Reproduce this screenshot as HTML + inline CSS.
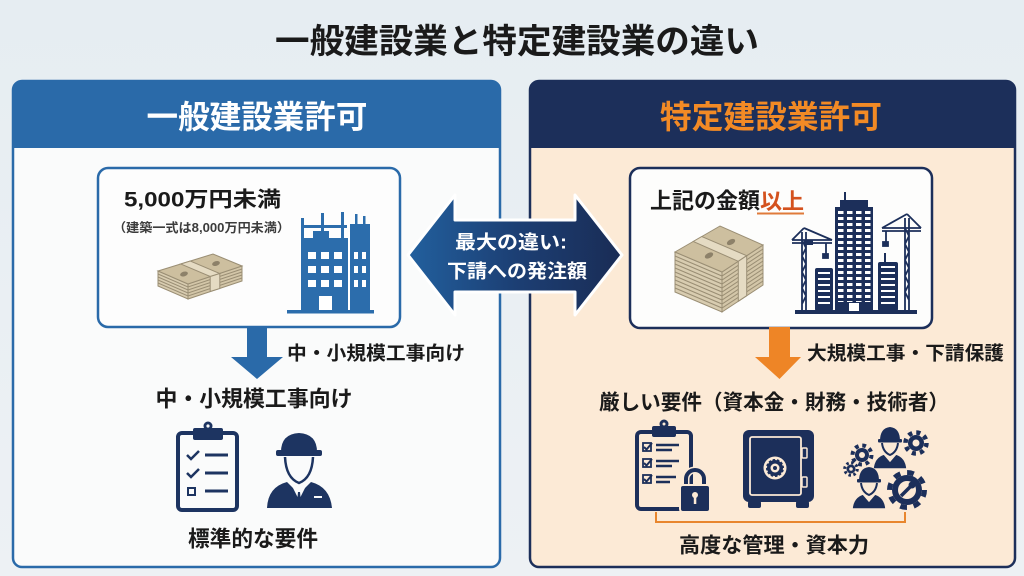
<!DOCTYPE html>
<html><head><meta charset="utf-8"><style>
html,body{margin:0;padding:0;width:1024px;height:576px;overflow:hidden;background:#e8eef3;}
svg{display:block;}
text{font-family:"Liberation Sans","Noto Sans CJK JP",sans-serif;}
</style></head><body>
<svg width="1024" height="576" viewBox="0 0 1024 576" xmlns="http://www.w3.org/2000/svg">
<defs>
<linearGradient id="bg" x1="0" y1="0" x2="0" y2="1"><stop offset="0" stop-color="#e6edf2"/><stop offset="1" stop-color="#edf1f4"/></linearGradient>
<linearGradient id="arr" x1="0" y1="0" x2="1" y2="0"><stop offset="0" stop-color="#22609e"/><stop offset="0.5" stop-color="#1c3f74"/><stop offset="1" stop-color="#1a2c55"/></linearGradient>
<pattern id="tw" x="836" y="210" width="9" height="6" patternUnits="userSpaceOnUse"><rect x="2" y="1" width="5.5" height="3" fill="#fff"/></pattern>
<pattern id="st" x="0" y="270" width="30" height="6" patternUnits="userSpaceOnUse"><rect x="0" y="2" width="30" height="2" fill="#fff"/></pattern>
</defs>
<rect width="1024" height="576" fill="url(#bg)"/>

<!-- Title -->
<text x="517" y="42" font-size="34" font-weight="700" fill="#1a1a1a" text-anchor="middle" dominant-baseline="central" textLength="484" lengthAdjust="spacingAndGlyphs">一般建設業と特定建設業の違い</text>

<!-- Left panel -->
<rect x="13" y="81" width="487" height="486" rx="9" fill="#fafbfb" stroke="#2a6aa9" stroke-width="2.5"/>
<path d="M13,148 V90 Q13,81 22,81 H491 Q500,81 500,90 V148 Z" fill="#2a6aa9"/>
<text x="257" y="117" font-size="32" font-weight="700" fill="#ffffff" text-anchor="middle" dominant-baseline="central" textLength="221" lengthAdjust="spacingAndGlyphs">一般建設業許可</text>

<!-- Right panel -->
<rect x="530" y="81" width="485" height="486" rx="9" fill="#fcead6" stroke="#1c2f5a" stroke-width="2.5"/>
<path d="M530,148 V90 Q530,81 539,81 H1006 Q1015,81 1015,90 V148 Z" fill="#1c2f5a"/>
<text x="771" y="117" font-size="32" font-weight="700" fill="#f28a25" text-anchor="middle" dominant-baseline="central" textLength="222" lengthAdjust="spacingAndGlyphs">特定建設業許可</text>

<!-- Left inner box -->
<rect x="98" y="168" width="302" height="159" rx="10" fill="#fdfdfd" stroke="#2a6aa9" stroke-width="2.5"/>
<text x="202.5" y="200" font-size="21" font-weight="700" fill="#1a1a1a" text-anchor="middle" dominant-baseline="central" textLength="157" lengthAdjust="spacingAndGlyphs">5,000万円未満</text>
<text x="201.5" y="228" font-size="12.5" font-weight="700" fill="#3c3c3c" text-anchor="middle" dominant-baseline="central" textLength="177" lengthAdjust="spacingAndGlyphs">（建築一式は8,000万円未満）</text>

<!-- Left money -->
<g stroke="#9a8e74" stroke-width="1">
<polygon points="158,271 188,284 188,299 158,286" fill="#d8ccb0"/>
<polygon points="188,284 242,266 242,281 188,299" fill="#d3c6a8"/>
<path d="M158,274 L188,287 L242,269 M158,277 L188,290 L242,272 M158,280 L188,293 L242,275 M158,283 L188,296 L242,278" fill="none"/>
<polygon points="158,271 213,254 242,266 188,284" fill="#cdbf9f"/>
<polygon points="180.7,264 190.3,261 219.8,273.5 210.2,276.5" fill="#e5dbc3"/>
<polygon points="210.2,276.5 219.8,273.5 219.8,288.5 210.2,291.5" fill="#e5dbc3"/>
</g>
<ellipse cx="184" cy="274" rx="4" ry="2.3" fill="#8d8169" transform="rotate(-17 184 274)"/>
<ellipse cx="216" cy="263.5" rx="4" ry="2.3" fill="#8d8169" transform="rotate(-17 216 263.5)"/>

<!-- Left building -->
<g fill="#2c6dac">
<rect x="287" y="310" width="87" height="3.5"/>
<rect x="301" y="218" width="3" height="92"/>
<rect x="321" y="213" width="3" height="25"/>
<rect x="341" y="212" width="3" height="28"/>
<rect x="301" y="225" width="46" height="3"/>
<rect x="304" y="238" width="44" height="72"/>
<rect x="313" y="231" width="16" height="9"/>
<rect x="350" y="224" width="20" height="86"/>
<rect x="355" y="214" width="2.5" height="10"/>
<rect x="363" y="216" width="2.5" height="8"/>
</g>
<g fill="#ffffff">
<rect x="308" y="252" width="8" height="7"/><rect x="321" y="252" width="8" height="7"/><rect x="334" y="252" width="8" height="7"/>
<rect x="308" y="266" width="8" height="7"/><rect x="321" y="266" width="8" height="7"/><rect x="334" y="266" width="8" height="7"/>
<rect x="308" y="280" width="8" height="7"/><rect x="321" y="280" width="8" height="7"/><rect x="334" y="280" width="8" height="7"/>
<rect x="354" y="252" width="4" height="7"/><rect x="362" y="252" width="4" height="7"/>
<rect x="354" y="266" width="4" height="7"/><rect x="362" y="266" width="4" height="7"/>
<rect x="354" y="280" width="4" height="7"/><rect x="362" y="280" width="4" height="7"/>
<rect x="319" y="296" width="13" height="14"/>
<rect x="348" y="232" width="2" height="78"/>
</g>

<!-- Right inner box -->
<rect x="630" y="168" width="302" height="160" rx="10" fill="#fdfdfc" stroke="#1c2f5a" stroke-width="2.5"/>
<text x="650" y="201" font-size="22" font-weight="700" fill="#1a1a1a" dominant-baseline="central" textLength="154" lengthAdjust="spacingAndGlyphs">上記の金額<tspan fill="#d4521e">以上</tspan></text>
<line x1="757" y1="213.5" x2="804" y2="213.5" stroke="#e07a3a" stroke-width="2"/>

<!-- Right money -->
<g stroke="#9a8e74" stroke-width="1">
<polygon points="675,252 722,272 722,312 675,292" fill="#d8ccb0"/>
<polygon points="722,272 763,245 763,285 722,312" fill="#d3c6a8"/>
<path d="M675,256 L722,276 L763,249 M675,260 L722,280 L763,253 M675,264 L722,284 L763,257 M675,268 L722,288 L763,261 M675,272 L722,292 L763,265 M675,276 L722,296 L763,269 M675,280 L722,300 L763,273 M675,284 L722,304 L763,277 M675,288 L722,308 L763,281" fill="none"/>
<polygon points="675,252 720,226 763,245 722,272" fill="#cdbf9f"/>
<polygon points="693.2,241.5 701.8,236.5 746.7,255.7 738.3,261.3" fill="#e5dbc3"/>
<polygon points="738.3,261.3 746.7,255.7 746.7,295.7 738.3,301.3" fill="#e5dbc3"/>
</g>
<ellipse cx="709" cy="255.5" rx="4.5" ry="2.6" fill="#8d8169" transform="rotate(-28 709 255.5)"/>
<ellipse cx="731" cy="242" rx="4.5" ry="2.6" fill="#8d8169" transform="rotate(-28 731 242)"/>

<!-- Right buildings & cranes -->
<g fill="#1c2f5a">
<rect x="835" y="207" width="38" height="104"/>
<rect x="840" y="200" width="28" height="8"/>
<rect x="844" y="192" width="2" height="9"/>
<rect x="815" y="268" width="18" height="43" rx="2"/>
<rect x="878" y="262" width="20" height="49" rx="2"/>
<rect x="884" y="253" width="2" height="10"/>
<rect x="795" y="310" width="122" height="4"/>
<rect x="804" y="240" width="9" height="5"/>
</g>
<rect x="836" y="210" width="36" height="92" fill="url(#tw)"/>
<rect x="849" y="303" width="10" height="8" fill="#fff"/>
<rect x="818" y="272" width="12" height="36" fill="url(#st)"/>
<rect x="881" y="266" width="14" height="42" fill="url(#st)"/>
<g stroke="#1c2f5a" stroke-width="1.8" fill="none">
<path d="M802,232 V311 M806,232 V311 M802,240 L806,248 L802,256 L806,264 L802,272 L806,280 L802,288 L806,296 L802,304"/>
<path d="M792,240 H832 M792,243 H832 M804,228 L792,240 M804,228 L832,240 M826,243 V254"/>
<rect x="823" y="254" width="5" height="4" fill="#1c2f5a"/>
<path d="M905,218 V311 M909,218 V311 M905,228 L909,236 L905,244 L909,252 L905,260 L909,268 L905,276 L909,284 L905,292 L909,300"/>
<path d="M882,228 H921 M882,231 H921 M907,214 L882,228 M907,214 L921,228 M886,231 V242"/>
<rect x="883" y="242" width="5" height="4" fill="#1c2f5a"/>
</g>

<!-- Double arrow -->
<polygon points="408,255 455,195 455,220 575,220 575,195 622,255 575,315 575,292 455,292 455,315" fill="url(#arr)" stroke="#ffffff" stroke-width="3" stroke-linejoin="round"/>
<text x="511" y="243" font-size="19" font-weight="700" fill="#ffffff" text-anchor="middle" dominant-baseline="central" textLength="112" lengthAdjust="spacingAndGlyphs">最大の違い:</text>
<text x="517" y="272" font-size="19" font-weight="700" fill="#ffffff" text-anchor="middle" dominant-baseline="central" textLength="140" lengthAdjust="spacingAndGlyphs">下請への発注額</text>

<!-- Left down arrow -->
<polygon points="247,327 267,327 267,357 283,357 257,379 231,357 247,357" fill="#2a6aa9"/>
<text x="376" y="354" font-size="19" font-weight="700" fill="#1a1a1a" text-anchor="middle" dominant-baseline="central" textLength="178" lengthAdjust="spacingAndGlyphs">中・小規模工事向け</text>
<text x="254" y="399" font-size="22" font-weight="700" fill="#1a1a1a" text-anchor="middle" dominant-baseline="central" textLength="197" lengthAdjust="spacingAndGlyphs">中・小規模工事向け</text>

<!-- Left clipboard -->
<g stroke="#1d3461" fill="none">
<rect x="178" y="433" width="59" height="77" rx="4" stroke-width="4"/>
<polyline points="187,455 191,459 199,451" stroke-width="2.5"/>
<polyline points="187,473 191,477 199,469" stroke-width="2.5"/>
<rect x="188" y="488" width="7" height="7" stroke-width="2"/>
<path d="M205,455 H228 M205,473 H228 M205,491 H228" stroke-width="3"/>
</g>
<rect x="193" y="428" width="30" height="12" rx="2" fill="#1d3461"/>
<circle cx="208" cy="426" r="4.5" fill="#1d3461"/>
<circle cx="208" cy="426" r="1.6" fill="#fafbfb"/>

<!-- Left worker -->
<g fill="#1d3461">
<path d="M281,452 Q281,434 299,433 Q317,434 317,452 Z"/>
<rect x="276" y="450" width="46" height="6" rx="2"/>
<path d="M267,508 Q268,487 287,482 L299,494 L311,482 Q330,487 332,508 Z"/>
</g>
<path d="M285,457 Q286,478 299,483 Q312,478 313,457" stroke="#1d3461" stroke-width="2.5" fill="none"/>
<polygon points="291,484 299,500 307,484 299,492" fill="#fafbfb"/>
<polygon points="298,492 300,492 301,502 299,505 297,502" fill="#1d3461"/>
<rect x="314" y="496" width="8" height="2" fill="#fafbfb"/>

<text x="253" y="539" font-size="22" font-weight="700" fill="#1a1a1a" text-anchor="middle" dominant-baseline="central" textLength="130" lengthAdjust="spacingAndGlyphs">標準的な要件</text>

<!-- Right down arrow -->
<polygon points="769,327 790,327 790,357 801,357 779.5,379 755,357 769,357" fill="#ee8526"/>
<text x="905.5" y="354" font-size="19" font-weight="700" fill="#1a1a1a" text-anchor="middle" dominant-baseline="central" textLength="197" lengthAdjust="spacingAndGlyphs">大規模工事・下請保護</text>
<text x="774" y="403" font-size="21" font-weight="700" fill="#1a1a1a" text-anchor="middle" dominant-baseline="central" textLength="350" lengthAdjust="spacingAndGlyphs">厳しい要件（資本金・財務・技術者）</text>

<!-- Right clipboard + lock -->
<g stroke="#1c2f5a" fill="none">
<rect x="637" y="432" width="54" height="77" rx="4" stroke-width="4"/>
<rect x="643" y="443" width="8" height="8" stroke-width="1.8"/>
<rect x="643" y="459" width="8" height="8" stroke-width="1.8"/>
<rect x="643" y="475" width="8" height="8" stroke-width="1.8"/>
<polyline points="644,447 646.5,449.5 652,443" stroke-width="2"/>
<polyline points="644,463 646.5,465.5 652,459" stroke-width="2"/>
<polyline points="644,479 646.5,481.5 652,475" stroke-width="2"/>
<path d="M656,445 H679 M656,450 H672 M656,461 H679 M656,466 H672 M656,477 H676 M656,482 H670" stroke-width="2.5"/>
</g>
<rect x="652" y="426" width="24" height="11" rx="2" fill="#1c2f5a"/>
<circle cx="664" cy="424" r="4.5" fill="#1c2f5a"/>
<circle cx="664" cy="424" r="1.5" fill="#fcead6"/>
<path d="M686,487 V479 A9,9 0 0 1 704,479 V487" stroke="#fcead6" stroke-width="7" fill="none"/>
<path d="M686,487 V479 A9,9 0 0 1 704,479 V487" stroke="#1c2f5a" stroke-width="4" fill="none"/>
<rect x="680" y="485" width="30" height="27" rx="3" fill="#1c2f5a" stroke="#fcead6" stroke-width="2"/>
<circle cx="695" cy="495" r="3" fill="#fcead6"/>
<rect x="693.8" y="496" width="2.5" height="8" fill="#fcead6"/>

<!-- Safe -->
<rect x="743" y="430" width="71" height="72" rx="6" fill="#1c2f5a"/>
<rect x="750" y="437" width="51" height="58" rx="2" fill="none" stroke="#fcead6" stroke-width="1.8"/>
<rect x="802" y="448" width="5" height="10" rx="1" fill="#1c2f5a" stroke="#fcead6" stroke-width="1.5"/>
<rect x="802" y="477" width="5" height="10" rx="1" fill="#1c2f5a" stroke="#fcead6" stroke-width="1.5"/>
<circle cx="775" cy="468" r="11.5" fill="#fcead6"/>
<circle cx="775" cy="468" r="9" fill="#1c2f5a"/>
<circle cx="775" cy="468" r="9" fill="none" stroke="#fcead6" stroke-width="2" stroke-dasharray="2 2.7"/>
<circle cx="775" cy="468" r="4.5" fill="#fcead6"/>
<circle cx="775" cy="468" r="2" fill="#1c2f5a"/>
<rect x="748" y="501" width="13" height="7" rx="2" fill="#1c2f5a"/>
<rect x="796" y="501" width="13" height="7" rx="2" fill="#1c2f5a"/>

<!-- People + gears -->
<g fill="#1c2f5a">
<circle cx="907" cy="490" r="15"/>
<circle cx="916" cy="443" r="8"/>
<circle cx="862" cy="455" r="7"/>
<circle cx="851" cy="469" r="4.5"/>
</g>
<g fill="none" stroke="#1c2f5a">
<circle cx="907" cy="490" r="17.5" stroke-width="5" stroke-dasharray="6.87 6.87"/>
<circle cx="916" cy="443" r="10.5" stroke-width="4.5" stroke-dasharray="4.12 4.12"/>
<circle cx="862" cy="455" r="9.5" stroke-width="4" stroke-dasharray="3.73 3.73"/>
<circle cx="851" cy="469" r="6.3" stroke-width="3" stroke-dasharray="2.47 2.47"/>
</g>
<circle cx="907" cy="490" r="9" fill="#fcead6"/>
<line x1="901" y1="496" x2="911" y2="486" stroke="#1c2f5a" stroke-width="3.5"/>
<circle cx="912" cy="485" r="3.5" fill="#1c2f5a"/>
<circle cx="916" cy="443" r="3.5" fill="#fcead6"/>
<circle cx="862" cy="455" r="3" fill="#fcead6"/>
<circle cx="851" cy="469" r="1.8" fill="#fcead6"/>
<!-- person 1 -->
<path d="M873,469 Q874,457 884,454 L890,461 L896,454 Q906,457 907,469 Z" fill="#1c2f5a" stroke="#fcead6" stroke-width="1.5"/>
<path d="M882,443 Q883,452 890,455 Q897,452 898,443" stroke="#1c2f5a" stroke-width="2" fill="#fcead6"/>
<path d="M880,441 Q880,428 890,427 Q900,428 900,441 Z" fill="#1c2f5a"/>
<rect x="878" y="439" width="24" height="3.5" rx="1" fill="#1c2f5a"/>
<!-- person 2 -->
<path d="M852,509 Q853,497 863,494 L869,501 L875,494 Q885,497 886,509 Z" fill="#1c2f5a" stroke="#fcead6" stroke-width="1.5"/>
<path d="M861,483 Q862,492 869,495 Q876,492 877,483" stroke="#1c2f5a" stroke-width="2" fill="#fcead6"/>
<path d="M859,481 Q859,468 869,467 Q879,468 879,481 Z" fill="#1c2f5a"/>
<rect x="857" y="479" width="24" height="3.5" rx="1" fill="#1c2f5a"/>

<!-- Bracket -->
<path d="M656,512 V522 H905 V512" stroke="#e8862e" stroke-width="2" fill="none"/>
<text x="774" y="546" font-size="21" font-weight="700" fill="#1a1a1a" text-anchor="middle" dominant-baseline="central" textLength="190" lengthAdjust="spacingAndGlyphs">高度な管理・資本力</text>
</svg>
</body></html>
